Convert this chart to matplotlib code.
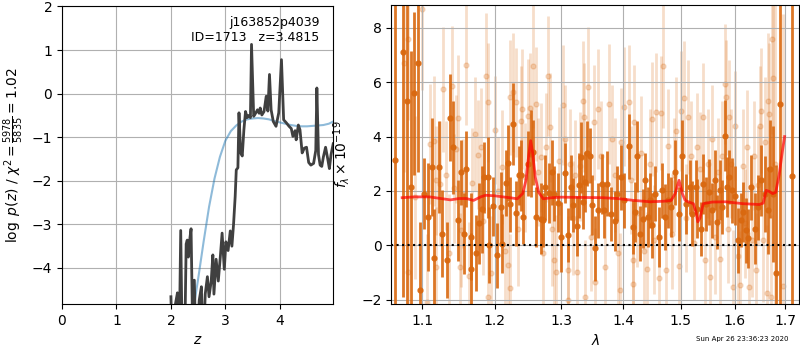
import numpy as np
import matplotlib
matplotlib.use('Agg')
import matplotlib.pyplot as plt
from matplotlib.ticker import NullLocator

# --------------- p(z) panel ------------------

z_grid = [2.00, 2.03, 2.08, 2.12, 2.15, 2.18, 2.21, 2.25, 2.28, 2.30, 2.32, 2.35, 2.37,
          2.40, 2.43, 2.46, 2.52, 2.56, 2.59, 2.63, 2.67, 2.70, 2.74, 2.77, 2.79, 2.83,
          2.87, 2.91, 2.94, 2.98, 3.01, 3.05, 3.09, 3.12, 3.15, 3.18, 3.20, 3.23, 3.25,
          3.28, 3.31, 3.34, 3.37, 3.40, 3.43, 3.46, 3.48, 3.52, 3.56, 3.59, 3.62, 3.64,
          3.67, 3.71, 3.75, 3.78, 3.81, 3.84, 3.88, 3.93, 3.98, 4.03, 4.07, 4.12, 4.17,
          4.21, 4.24, 4.28, 4.30, 4.34, 4.37, 4.41, 4.45, 4.49, 4.53, 4.57, 4.62, 4.66,
          4.68, 4.71, 4.74, 4.77, 4.80, 4.84, 4.88, 4.91, 4.94, 4.98]
log_pz = [-4.66, -6.0, -4.85, -4.57, -6.0, -3.14, -6.0, -6.0, -3.45, -3.36, -3.75, -3.30, -3.10,
          -5.5, -4.28, -6.0, -4.74, -4.43, -6.0, -4.60, -4.20, -4.66, -4.30, -3.70, -4.60, -3.80,
          -4.30, -3.70, -3.20, -4.03, -3.40, -3.60, -3.15, -3.50, -3.00, -2.36, -1.75, -1.70, -0.44,
          -1.36, -1.43, -0.83, -0.41, -0.55, -0.50, -0.55, 1.13, -0.52, -0.44, -0.37, -0.45, -0.33,
          -0.49, -0.41, -0.06, -0.40, 0.44, -0.37, -0.64, -0.75, -0.44, 0.78, -0.60, -0.67, -0.75,
          -0.80, -0.98, -0.85, -1.06, -0.72, -0.83, -1.36, -1.25, -1.23, -1.58, -1.64, -1.60, -1.30,
          0.13, -1.40, -1.64, -1.67, -1.45, -1.23, -1.50, -1.72, -1.40, -1.15]

z_prior = [2.42, 2.50, 2.60, 2.70, 2.80, 2.90, 3.00, 3.10, 3.20, 3.30, 3.40, 3.50,
           3.60, 3.70, 3.80, 3.90, 4.00, 4.10, 4.20, 4.30, 4.40, 4.50, 4.60, 4.70, 4.80,
           4.90, 4.98]
log_prior = [-4.90, -4.25, -3.40, -2.60, -1.95, -1.45, -1.08, -0.86, -0.73, -0.64,
             -0.59, -0.57, -0.56, -0.57, -0.59, -0.63, -0.66, -0.69, -0.72, -0.74, -0.75,
             -0.75, -0.74, -0.73, -0.72, -0.69, -0.64]

# --------------- spectrum panel ------------------

lam_dark = [1.065, 1.075, 1.080, 1.085, 1.090, 1.094, 1.097, 1.102, 1.108, 1.113, 1.116, 1.123,
            1.127, 1.134, 1.138, 1.142, 1.148, 1.152, 1.157, 1.159, 1.166, 1.167, 1.174, 1.177,
            1.182, 1.185, 1.190, 1.192, 1.198, 1.204, 1.209, 1.211, 1.216, 1.220, 1.223, 1.226,
            1.231, 1.235, 1.239, 1.242, 1.249, 1.253, 1.257, 1.261, 1.268, 1.272, 1.275, 1.281,
            1.285, 1.289, 1.295, 1.300, 1.306, 1.311, 1.315, 1.319, 1.324, 1.328, 1.331, 1.334,
            1.338, 1.341, 1.345, 1.349, 1.354, 1.359, 1.365, 1.368, 1.373, 1.379, 1.386, 1.390,
            1.396, 1.402, 1.410, 1.416, 1.420, 1.424, 1.429, 1.433, 1.437, 1.442, 1.446, 1.449,
            1.455, 1.461, 1.466, 1.472, 1.478, 1.483, 1.490, 1.497, 1.503, 1.510, 1.516, 1.521,
            1.527, 1.529, 1.537, 1.541, 1.547, 1.552, 1.558, 1.563, 1.567, 1.572, 1.576, 1.581,
            1.586, 1.590, 1.595, 1.601, 1.606, 1.612, 1.616, 1.622, 1.627, 1.632, 1.639, 1.645,
            1.652, 1.659, 1.665, 1.669, 1.675, 1.681, 1.689, 1.715]
flux_dark = [3.12, 7.10, 5.30, 2.14, 5.60, 6.70, -1.65, 1.90, 1.04, 2.87, -0.48, 2.87,
             0.43, -0.55, 4.70, 3.60, 0.92, 2.69, 0.43, 2.81, -0.86, 0.31, -0.30, 0.80,
             1.32, 2.50, 2.50, 0.00, 1.43, -0.37, 1.40, 0.06, 2.29, 3.02, 1.50, 4.47,
             1.17, 2.57, 2.57, 1.04, 3.00, 3.37, 3.42, 1.04, 0.98, 0.94, 2.14, 1.92,
             2.69, 1.90, 1.57, 0.31, 2.65, 0.37, 2.14, 1.47, 0.72, 2.20, 3.24, 1.59,
             2.32, 3.39, 3.30, 1.47, -0.12, 1.28, 2.26, 1.28, 2.26, 1.16, 0.89, 1.90,
             2.50, 1.65, 3.64, 0.67, 1.22, 3.27, 0.43, 0.98, 2.39, 1.04, 1.65, 0.73,
             1.90, 0.31, 2.02, 1.04, 1.65, 1.40, 2.69, 1.16, 3.30, 1.53, 2.14, 1.16,
             2.14, 1.35, 0.61, 2.26, 1.53, 1.96, 1.28, 2.39, 0.86, 2.02, 1.40, 4.04,
             2.14, 2.50, 2.02, 1.83, 0.18, 0.92, 1.22, 0.55, 0.25, 2.14, 0.61, 1.40,
             2.39, 1.90, 1.28, 2.81, 1.90, -1.04, 5.20, 2.55]
err_dark = [12.0, 9.0, 8.0, 5.0, 3.0, 4.0, 2.5, 1.3, 2.0, 1.8, 1.8, 1.7,
            1.6, 1.4, 1.6, 1.7, 1.5, 1.2, 1.5, 1.4, 1.3, 1.6, 1.4, 1.5,
            1.6, 1.3, 1.5, 1.4, 1.1, 1.2, 1.3, 1.1, 1.2, 1.4, 1.0, 1.5,
            1.2, 1.1, 1.3, 1.0, 1.2, 1.6, 1.2, 1.1, 1.3, 1.0, 1.2, 1.1,
            1.2, 1.0, 1.1, 1.3, 1.1, 1.0, 1.2, 1.0, 1.1, 1.2, 1.3, 1.0,
            1.1, 1.2, 1.0, 1.1, 1.2, 1.0, 1.1, 1.0, 1.2, 1.0, 1.1, 1.0,
            1.2, 1.0, 1.2, 1.0, 1.1, 1.3, 1.0, 1.1, 1.0, 1.1, 1.0, 1.2,
            1.0, 1.1, 1.0, 1.2, 1.0, 1.1, 1.2, 1.0, 1.3, 1.1, 1.0, 1.2,
            1.0, 1.1, 1.0, 1.1, 1.0, 1.2, 1.0, 1.1, 1.0, 1.1, 1.0, 1.3,
            1.1, 1.0, 1.2, 1.1, 1.2, 1.0, 1.1, 1.2, 1.1, 1.2, 1.3, 1.2,
            1.3, 1.4, 1.6, 1.8, 2.5, 4.0, 10.0, 12.0]

lam_lite = [1.076, 1.081, 1.081, 1.091, 1.100, 1.106, 1.111, 1.116, 1.118, 1.118, 1.124, 1.128,
            1.132, 1.136, 1.140, 1.143, 1.145, 1.148, 1.151, 1.153, 1.156, 1.160, 1.164, 1.168,
            1.172, 1.176, 1.180, 1.184, 1.188, 1.190, 1.190, 1.195, 1.200, 1.205, 1.210, 1.215,
            1.219, 1.223, 1.223, 1.227, 1.231, 1.234, 1.238, 1.240, 1.245, 1.249, 1.252, 1.256,
            1.261, 1.264, 1.268, 1.272, 1.276, 1.279, 1.283, 1.286, 1.288, 1.292, 1.296, 1.303,
            1.306, 1.310, 1.310, 1.314, 1.318, 1.322, 1.325, 1.330, 1.334, 1.336, 1.337, 1.342,
            1.347, 1.352, 1.354, 1.359, 1.363, 1.370, 1.376, 1.381, 1.386, 1.391, 1.395, 1.396,
            1.402, 1.409, 1.413, 1.416, 1.417, 1.418, 1.424, 1.430, 1.435, 1.441, 1.445, 1.449,
            1.453, 1.456, 1.461, 1.465, 1.469, 1.473, 1.478, 1.484, 1.488, 1.492, 1.497, 1.500,
            1.506, 1.510, 1.514, 1.519, 1.524, 1.530, 1.536, 1.541, 1.544, 1.549, 1.553, 1.558,
            1.563, 1.568, 1.573, 1.577, 1.581, 1.583, 1.588, 1.590, 1.594, 1.597, 1.601, 1.606,
            1.611, 1.616, 1.620, 1.624, 1.628, 1.633, 1.638, 1.642, 1.646, 1.650, 1.652, 1.656,
            1.660, 1.664, 1.666, 1.667, 1.672, 1.674, 1.675, 1.680, 1.695]
flux_lite = [6.70, 7.60, -0.98, 1.77, 8.70, -2.08, 3.73, 3.85, 2.39, -0.80, 2.26, 5.75,
             2.57, -0.30, 5.87, 2.10, 3.55, 4.69, -0.80, 0.55, 1.90, 6.64, -1.14, 2.30,
             4.10, 3.34, 3.60, 0.90, 6.24, 5.26, -1.90, -1.03, 4.24, 2.00, 2.87, -0.20,
             -0.73, 5.44, -1.59, 5.63, 5.26, 0.58, 4.59, 5.02, 2.50, 4.77, 5.07, 6.60,
             5.20, 2.70, 3.24, -0.30, 3.60, 6.24, 4.34, 0.58, -0.55, -0.98, 3.10, 5.17,
             3.90, -0.92, -2.00, 3.00, 1.00, 2.60, -0.98, 2.90, 5.32, 4.71, -1.92, 5.83,
             0.30, 4.52, -1.35, 5.02, 3.30, -0.80, 5.20, 3.90, 2.60, -0.30, -1.65, 3.79,
             5.10, 5.28, 2.40, -0.55, -1.41, 4.52, 1.20, 3.40, -0.20, -0.86, 3.00, 4.65,
             0.20, 4.89, -1.22, 4.87, 6.60, -0.90, 3.67, 0.40, 2.60, 4.20, -0.76, 4.95,
             5.42, 1.00, 4.73, 3.30, 0.10, 3.60, 2.80, 4.71, -0.55, 3.00, -1.16, 3.90,
             0.30, 2.70, -0.50, 3.30, 5.93, 5.44, 0.60, 4.71, 3.00, -1.53, 4.40, -0.40,
             -1.47, 2.90, 0.80, 3.60, -1.53, 0.20, 3.30, -0.90, 2.20, 4.40, 4.95, 0.20,
             3.80, -1.77, 5.32, 4.83, -1.90, 7.58, 6.15, 3.00, -1.50]
err_lite = [4.0, 3.0, 3.0, 3.0, 3.0, 2.5, 2.2, 2.4, 2.0, 2.2, 2.3, 2.3,
            2.0, 2.2, 2.2, 2.0, 2.0, 2.3, 2.0, 2.1, 2.0, 2.2, 2.0, 2.0,
            2.1, 2.0, 2.2, 2.0, 2.3, 2.2, 2.0, 2.1, 2.0, 2.0, 2.1, 2.0,
            2.2, 2.1, 2.0, 2.2, 2.0, 2.1, 2.0, 2.2, 2.0, 2.1, 2.0, 2.3,
            2.1, 2.0, 2.0, 2.1, 2.0, 2.2, 2.0, 2.1, 2.0, 2.1, 2.0, 2.2,
            2.0, 2.0, 2.1, 2.0, 2.1, 2.0, 2.1, 2.0, 2.2, 2.0, 2.1, 2.2,
            2.0, 2.1, 2.0, 2.2, 2.0, 2.1, 2.2, 2.0, 2.1, 2.0, 2.1, 2.0,
            2.2, 2.1, 2.0, 2.1, 2.0, 2.1, 2.0, 2.1, 2.0, 2.1, 2.0, 2.1,
            2.0, 2.2, 2.0, 2.1, 2.3, 2.0, 2.1, 2.0, 2.1, 2.0, 2.1, 2.2,
            2.1, 2.0, 2.1, 2.0, 2.1, 2.0, 2.1, 2.0, 2.1, 2.0, 2.1, 2.0,
            2.1, 2.0, 2.1, 2.0, 2.2, 2.1, 2.0, 2.1, 2.0, 2.1, 2.0, 2.1,
            2.0, 2.1, 2.0, 2.1, 2.0, 2.1, 2.0, 2.1, 2.2, 2.2, 2.3, 2.3,
            2.4, 2.5, 2.5, 2.6, 3.0, 3.5, 4.0, 6.0, 10.0]

lam_model = [1.074, 1.090, 1.110, 1.125, 1.138, 1.150, 1.160, 1.170, 1.180, 1.187, 1.200, 1.212,
             1.222, 1.233, 1.241, 1.246, 1.250, 1.253, 1.256, 1.260, 1.265, 1.272, 1.285, 1.300,
             1.330, 1.366, 1.390, 1.418, 1.446, 1.470, 1.483, 1.490, 1.497, 1.503, 1.508, 1.516,
             1.523, 1.528, 1.531, 1.535, 1.541, 1.558, 1.583, 1.616, 1.648, 1.656, 1.662, 1.668,
             1.675, 1.681, 1.688, 1.694, 1.699]
flux_model = [1.75, 1.78, 1.78, 1.72, 1.67, 1.72, 1.72, 1.65, 1.78, 1.84, 1.82, 1.78,
              1.75, 1.71, 1.90, 2.40, 3.30, 3.85, 3.40, 2.50, 1.95, 1.71, 1.75, 1.77,
              1.76, 1.75, 1.72, 1.65, 1.60, 1.62, 1.65, 1.90, 2.39, 1.90, 1.65, 1.58,
              1.53, 1.20, 0.86, 1.00, 1.53, 1.59, 1.60, 1.53, 1.50, 1.55, 2.02, 1.98,
              1.90, 1.95, 2.60, 3.40, 4.00]

dark_col = '#d9680f'

fig = plt.figure(figsize=(8, 3.5), dpi=100)

ax1 = fig.add_axes([0.0775, 0.131, 0.339, 0.853])
ax1.plot(z_prior, log_prior, color='tab:blue', alpha=0.5, lw=1.5)
ax1.plot(z_grid, log_pz, color='0.25', lw=2)
ax1.set_xlim(0, 4.98)
ax1.set_ylim(-4.83, 2.02)
ax1.set_xticks([0, 1, 2, 3, 4])
ax1.set_yticks([-4, -3, -2, -1, 0, 1, 2])
ax1.grid()
ax1.set_xlabel(r'$z$')
ax1.set_ylabel(r'$\log\ p(z)$ / $\chi^2=\frac{5978}{5835}=1.02$')
ax1.text(0.95, 0.965, 'j163852p4039\nID=1713   z=3.4815', transform=ax1.transAxes,
         ha='right', va='top', fontsize=9)

ax2 = fig.add_axes([0.489, 0.131, 0.510, 0.855])
ax2.errorbar(lam_lite, flux_lite, yerr=err_lite, fmt='o', ms=3.5, color=dark_col,
             alpha=0.22, elinewidth=2, capsize=0, zorder=1)
ax2.errorbar(lam_dark, flux_dark, yerr=err_dark, fmt='o', ms=3.5, color=dark_col,
             alpha=0.9, elinewidth=2, capsize=0, zorder=2)
ax2.plot(lam_model, flux_model, color='red', alpha=0.7, lw=2, zorder=3)
ax2.axhline(0, color='k', ls=':', lw=1.5, zorder=4)
ax2.set_xscale('log')
ax2.set_xlim(1.06, 1.729)
ax2.set_ylim(-2.17, 8.85)
ax2.set_xticks([1.1, 1.2, 1.3, 1.4, 1.5, 1.6, 1.7])
ax2.set_xticklabels(['1.1', '1.2', '1.3', '1.4', '1.5', '1.6', '1.7'])
ax2.xaxis.set_minor_locator(NullLocator())
ax2.set_yticks([-2, 0, 2, 4, 6, 8])
ax2.grid()
ax2.set_xlabel(r'$\lambda$')
ax2.set_ylabel(r'$f_\lambda\times10^{-19}$')
ax2.yaxis.set_label_coords(-0.095, 0.5)

fig.text(0.985, 0.031, 'Sun Apr 26 23:36:23 2020', ha='right', va='center', fontsize=5)

fig.savefig('out.png', dpi=100)
